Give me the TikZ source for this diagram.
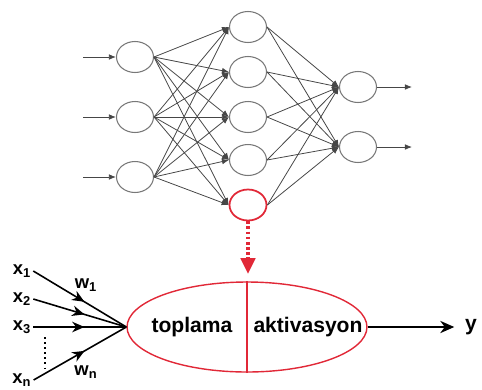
\documentclass[tikz,border=0pt]{standalone}
\usepackage{fontspec}
\setmainfont{Liberation Sans}
\usepackage{tikz}
\usetikzlibrary{shapes,arrows.meta,positioning,calc,decorations.markings}

\definecolor{neurongray}{RGB}{120,120,120}
\definecolor{edgegray}{RGB}{70,70,70}
\definecolor{neuronred}{RGB}{225,40,55}

\begin{document}
\begin{tikzpicture}[x=0.02cm, y=-0.02cm,
    neuron/.style={ellipse, draw=neurongray, line width=0.6pt, fill=white, inner sep=0pt, minimum width=0.74cm, minimum height=0.62cm},
    link/.style={draw=edgegray, line width=0.45pt, -{Latex[length=4pt,width=3.2pt]}},
    label/.style={inner sep=1pt, font=\bfseries\fontsize{10.5}{12}\selectfont},
    input/.style={draw=black, line width=0.9pt, postaction={decorate},
        decoration={markings, mark=at position 0.55 with {\arrow{Stealth[length=7pt,width=6pt]}}}}]
    \useasboundingbox (0,0) rectangle (482,389);

    % network
    \node[neuron] (I1) at (135,57) {};
    \node[neuron] (I2) at (135,117) {};
    \node[neuron] (I3) at (135,177) {};

    \node[neuron] (H1) at (248,27) {};
    \node[neuron] (H2) at (248,72) {};
    \node[neuron] (H3) at (248,117) {};
    \node[neuron] (H4) at (248,160) {};
    \node[neuron, draw=neuronred, line width=1pt] (H5) at (248,205) {};

    \node[neuron] (O1) at (358,87) {};
    \node[neuron] (O2) at (358,147) {};

    \coordinate (in1) at (83,57);
    \coordinate (in2) at (83,117);
    \coordinate (in3) at (83,177);
    \coordinate (out1) at (412,87);
    \coordinate (out2) at (412,147);

    \draw[link] (in1) -- (I1);
    \draw[link] (in2) -- (I2);
    \draw[link] (in3) -- (I3);

    \draw[link] (I1.east) -- (H1.west);
    \draw[link] (I1.east) -- (H2.west);
    \draw[link] (I1.east) -- (H3.west);
    \draw[link] (I1.east) -- (H4.west);
    \draw[link] (I1.east) -- (H5.west);
    \draw[link] (I2.east) -- (H1.west);
    \draw[link] (I2.east) -- (H2.west);
    \draw[link] (I2.east) -- (H3.west);
    \draw[link] (I2.east) -- (H4.west);
    \draw[link] (I2.east) -- (H5.west);
    \draw[link] (I3.east) -- (H1.west);
    \draw[link] (I3.east) -- (H2.west);
    \draw[link] (I3.east) -- (H3.west);
    \draw[link] (I3.east) -- (H4.west);
    \draw[link] (I3.east) -- (H5.west);

    \draw[link] (H1.east) -- (O1.west);
    \draw[link] (H2.east) -- (O1.west);
    \draw[link] (H3.east) -- (O1.west);
    \draw[link] (H4.east) -- (O1.west);
    \draw[link] (H5.east) -- (O1.west);
    \draw[link] (H1.east) -- (O2.west);
    \draw[link] (H2.east) -- (O2.west);
    \draw[link] (H3.east) -- (O2.west);
    \draw[link] (H4.east) -- (O2.west);
    \draw[link] (H5.east) -- (O2.west);

    \draw[link] (O1) -- (out1);
    \draw[link] (O2) -- (out2);

    % zoom into the red neuron
    \coordinate (zoomtip) at (248,274);
    \draw[neuronred, line width=2.8pt, dash pattern=on 1.6pt off 1.3pt,
          -{Triangle[length=9pt,width=8pt]}] (H5.south) -- (zoomtip);

    % single neuron
    \node[ellipse, draw=neuronred, line width=0.8pt, inner sep=0pt,
          minimum width=4.8cm, minimum height=1.8cm] (cell) at (247,327) {};
    \draw[neuronred, line width=0.8pt] (cell.north) -- (cell.south);
    \node[font=\bfseries\fontsize{12}{14}\selectfont] (sum) at (192,327) {toplama};
    \node[font=\bfseries\fontsize{12}{14}\selectfont] (act) at (308,327) {aktivasyon};

    \node[label] (x1) at (22,271) {x\textsubscript{1}};
    \node[label] (x2) at (22,299) {x\textsubscript{2}};
    \node[label] (x3) at (22,327) {x\textsubscript{3}};
    \node[label] (xn) at (22,380) {x\textsubscript{n}};
    \node[label] (w1) at (86,285) {w\textsubscript{1}};
    \node[label] (wn) at (86,372) {w\textsubscript{n}};
    \node[label, font=\bfseries\fontsize{12}{14}\selectfont] (y) at (471,327) {y};

    \coordinate (dotstop) at (45,337);
    \coordinate (dotsbot) at (45,368);
    \draw[line width=0.9pt, dotted] (dotstop) -- (dotsbot);

    \draw[input] (x1.east) -- (cell.west);
    \draw[input] (x2.east) -- (cell.west);
    \draw[input] (x3.east) -- (cell.west);
    \draw[input] (xn.east) -- (cell.west);
    \draw[draw=black, line width=0.9pt, shorten >=5pt, -{Stealth[length=8pt,width=7pt]}] (cell.east) -- (y.west);
\end{tikzpicture}
\end{document}
